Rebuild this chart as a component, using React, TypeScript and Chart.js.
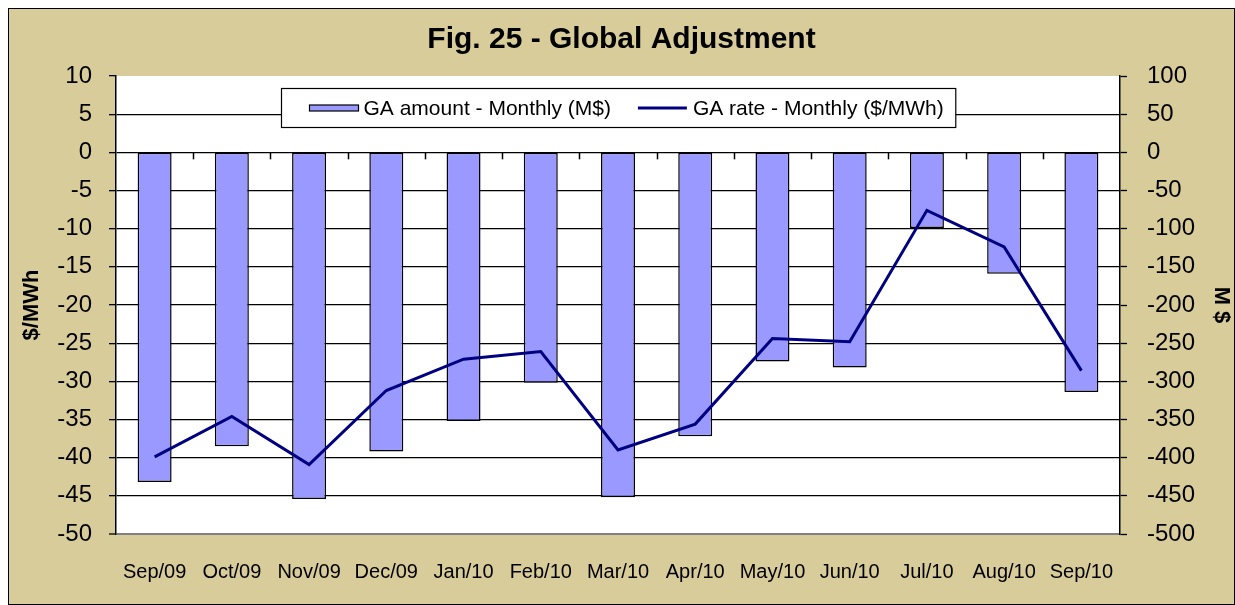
import React, { useEffect, useRef } from 'react';
import { Chart, registerables } from 'chart.js';

Chart.register(...registerables);

const categories = ['Sep/09', 'Oct/09', 'Nov/09', 'Dec/09', 'Jan/10', 'Feb/10', 'Mar/10', 'Apr/10', 'May/10', 'Jun/10', 'Jul/10', 'Aug/10', 'Sep/10'];
const gaAmountMonthly = [-432, -385, -454, -392, -352, -302, -452, -372, -274, -282, -99, -159, -314];
const gaRateMonthly = [-39.9, -34.6, -40.9, -31.2, -27.1, -26.1, -39.0, -35.6, -24.4, -24.8, -7.6, -12.4, -28.6];
const leftAxisRange = [-50, 10, 5];
const rightAxisRange = [-500, 100, 50];

const FONT = 'Arial, "Liberation Sans", sans-serif';
const BAR_COLOR = '#9999FF';
const LINE_COLOR = '#000080';

const plotBackground = {
  id: 'plotBackground',
  beforeDraw(chart: any) {
    const { ctx, chartArea } = chart;
    ctx.save();
    ctx.fillStyle = '#FFFFFF';
    ctx.fillRect(chartArea.left, chartArea.top, chartArea.right - chartArea.left, chartArea.bottom - chartArea.top);
    ctx.restore();
  },
};

const zeroTicks = {
  id: 'zeroTicks',
  afterDatasetsDraw(chart: any) {
    const { ctx } = chart;
    const xs = chart.scales.x;
    const y0 = chart.scales.y.getPixelForValue(0);
    ctx.save();
    ctx.strokeStyle = '#000';
    ctx.lineWidth = 1.5;
    for (let i = 1; i < categories.length; i++) {
      const x = Math.round((xs.getPixelForValue(i - 1) + xs.getPixelForValue(i)) / 2) + 0.5;
      ctx.beginPath();
      ctx.moveTo(x, y0);
      ctx.lineTo(x, y0 + 7);
      ctx.stroke();
    }
    ctx.restore();
  },
};

const boxLegend = {
  id: 'boxLegend',
  afterDraw(chart: any) {
    const { ctx, chartArea } = chart;
    const ds = chart.data.datasets;
    const barDs = ds.find((d: any) => d.type === 'bar');
    const lineDs = ds.find((d: any) => d.type === 'line');
    ctx.save();
    ctx.font = `21px ${FONT}`;
    const w1 = ctx.measureText(barDs.label).width;
    const w2 = ctx.measureText(lineDs.label).width;
    const padL = 28;
    const sw = 49;
    const boxW = padL + sw + 5 + w1 + 27 + sw + 6 + w2 + 12;
    const boxH = 39;
    const cx = (chartArea.left + chartArea.right) / 2;
    const left = Math.round(cx - boxW / 2) + 0.5;
    const top = chartArea.top + 12.5;
    ctx.fillStyle = '#FFFFFF';
    ctx.fillRect(left, top, boxW, boxH);
    ctx.strokeStyle = '#000';
    ctx.lineWidth = 1.2;
    ctx.strokeRect(left, top, boxW, boxH);
    const cy = top + boxH / 2;
    let x = left + padL;
    ctx.fillStyle = BAR_COLOR;
    ctx.fillRect(x, cy - 3, sw, 6);
    ctx.lineWidth = 1.2;
    ctx.strokeRect(x, cy - 3, sw, 6);
    x += sw + 5;
    ctx.fillStyle = '#000';
    ctx.textBaseline = 'middle';
    ctx.textAlign = 'left';
    ctx.fillText(barDs.label, x, cy + 1);
    x += w1 + 27;
    ctx.strokeStyle = LINE_COLOR;
    ctx.lineWidth = 3;
    ctx.beginPath();
    ctx.moveTo(x, cy);
    ctx.lineTo(x + sw, cy);
    ctx.stroke();
    x += sw + 6;
    ctx.fillText(lineDs.label, x, cy + 1);
    ctx.restore();
  },
};

export default function App() {
  const ref = useRef<HTMLCanvasElement | null>(null);

  useEffect(() => {
    if (!ref.current) return;
    Chart.defaults.font.family = FONT;
    const chart = new Chart(ref.current, {
      type: 'bar',
      data: {
        labels: categories,
        datasets: [
          {
            type: 'line',
            label: 'GA rate - Monthly ($/MWh)',
            data: gaRateMonthly,
            yAxisID: 'y',
            borderColor: LINE_COLOR,
            backgroundColor: LINE_COLOR,
            borderWidth: 3,
            pointRadius: 0,
            tension: 0,
            order: 0,
          },
          {
            type: 'bar',
            label: 'GA amount - Monthly (M$)',
            data: gaAmountMonthly,
            yAxisID: 'y1',
            backgroundColor: BAR_COLOR,
            borderColor: '#000',
            borderWidth: 1.5,
            borderSkipped: false,
            barPercentage: 0.44,
            categoryPercentage: 1,
            order: 1,
          },
        ] as any,
      },
      options: {
        responsive: false,
        animation: false,
        layout: { padding: 0 },
        plugins: {
          legend: { display: false },
          tooltip: { enabled: false },
          title: {
            display: true,
            text: 'Fig. 25 - Global Adjustment',
            color: '#000',
            font: { family: FONT, size: 30, weight: 'bold' },
            padding: { top: 13, bottom: 18 },
          },
        },
        scales: {
          x: {
            grid: { display: false, drawTicks: false },
            border: { display: false },
            ticks: { color: '#000', font: { family: FONT, size: 20 }, padding: 26, maxRotation: 0, autoSkip: false },
            afterFit(scale: any) { scale.height = 70; },
          },
          y: {
            position: 'left',
            min: leftAxisRange[0],
            max: leftAxisRange[1],
            ticks: { stepSize: leftAxisRange[2], color: '#000', font: { family: FONT, size: 24 }, padding: 17 },
            grid: {
              color: (c: any) => (c.tick && c.tick.value === leftAxisRange[1] ? 'rgba(0,0,0,0)' : c.tick && c.tick.value === leftAxisRange[0] ? '#808080' : '#000'),
              lineWidth: (c: any) => (c.tick && c.tick.value === leftAxisRange[0] ? 2 : 1.3),
              tickLength: 7,
              tickColor: '#000',
              tickWidth: 1.3,
            },
            border: { color: '#000', width: 1.5 },
            title: { display: true, text: '$/MWh', color: '#000', font: { family: FONT, size: 22, weight: 'bold' }, padding: { top: 9.5, bottom: 0 } },
            afterFit(scale: any) { scale.width = 107; },
          },
          y1: {
            position: 'right',
            min: rightAxisRange[0],
            max: rightAxisRange[1],
            ticks: { stepSize: rightAxisRange[2], color: '#000', font: { family: FONT, size: 24 }, padding: 20 },
            grid: { drawOnChartArea: false, tickLength: 7, color: '#000', tickWidth: 1.3 },
            border: { color: '#000', width: 1.5 },
            title: { display: true, text: 'M $', color: '#000', font: { family: FONT, size: 22, weight: 'bold' }, padding: { top: 0, bottom: 0 } },
            afterFit(scale: any) { scale.width = 114; },
          },
        },
      } as any,
      plugins: [plotBackground, zeroTicks, boxLegend],
    });
    return () => chart.destroy();
  }, []);

  return (
    <div style={{ position: 'absolute', left: 0, top: 0, width: 1235, height: 605, background: '#FFFFFF', overflow: 'hidden' }}>
      <div style={{ position: 'absolute', left: 8, top: 8, width: 1225, height: 595, border: '1px solid #000', background: '#D8CC9A' }}>
        <canvas ref={ref} width={1225} height={595} style={{ display: 'block' }} />
      </div>
    </div>
  );
}
